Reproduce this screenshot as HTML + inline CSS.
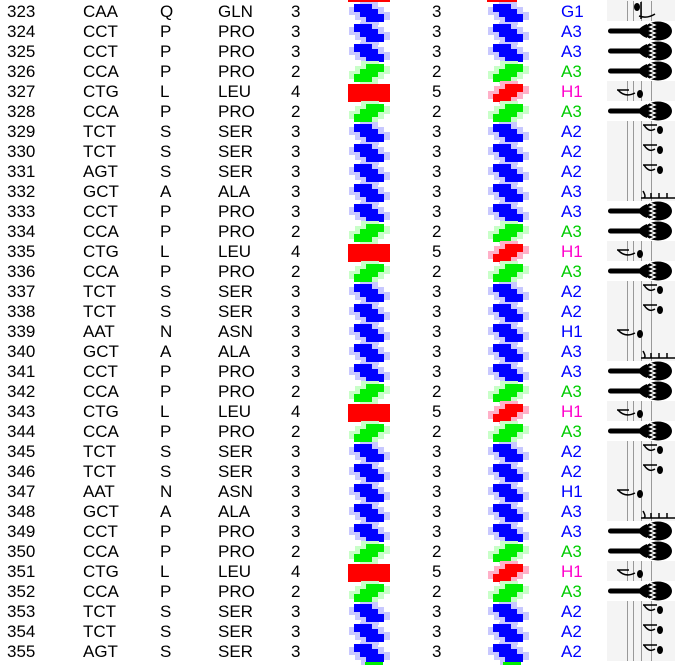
<!DOCTYPE html>
<html><head><meta charset="utf-8"><style>
html,body{margin:0;padding:0;background:#fff;width:675px;height:665px;overflow:hidden}
text{font-family:"Liberation Sans",Arial,sans-serif;font-size:17px}
</style></head><body>
<svg width="675" height="665" xmlns="http://www.w3.org/2000/svg">
<defs>
<polygon id="dk" points="6,0 24,0 24,5 30,5 30,10 36,10 36,18 18,18 18,13 12,13 12,8 6,8"/>
<g id="blue">
<g fill="#c8c8ff"><use href="#dk" transform="translate(-5,3)"/><use href="#dk" transform="translate(6,-2)"/></g>
<use href="#dk" fill="#0000ff"/></g>
<g id="green"><g transform="translate(0,18) scale(1,-1)">
<g fill="#c8ffc8"><use href="#dk" transform="translate(-5,3)"/><use href="#dk" transform="translate(6,-2)"/></g>
<use href="#dk" fill="#00ee00"/></g></g>
<g id="redst"><g transform="translate(0,18) scale(1,-1)">
<g fill="#ffb0c8"><use href="#dk" transform="translate(-5,3)"/><use href="#dk" transform="translate(6,-2)"/></g>
<use href="#dk" fill="#ff0000"/></g></g>
<rect id="redb" width="42" height="18" fill="#ff0000"/>
<g id="mar">
<rect x="1" y="7.5" width="36" height="5" rx="2.5" fill="#000"/>
<path d="M30,10 Q36,4 40,3 L40,17 Q36,16 30,10Z" fill="#000"/>
<ellipse cx="51" cy="10" rx="14" ry="9.5" fill="#000"/>
<polyline points="43,2 48,4 43,6 48,8 43,10 48,12 43,14 48,16 43,18" fill="none" stroke="#fff" stroke-width="1.3"/></g>
<g id="gray">
<rect width="68" height="20" fill="#f4f4f4"/>
<g stroke="#999" stroke-width="1"><line x1="20.5" y1="0" x2="20.5" y2="20"/><line x1="26.5" y1="0" x2="26.5" y2="20"/><line x1="34.5" y1="0" x2="34.5" y2="20"/><line x1="44.5" y1="0" x2="44.5" y2="20"/></g></g>
<g id="nA2"><use href="#gray"/>
<path d="M36,4 L50,4 M37,4 Q42,12 48,8" stroke="#000" stroke-width="1.5" fill="none"/><ellipse cx="53" cy="9" rx="3" ry="4" fill="#000"/></g>
<g id="nH1"><use href="#gray"/>
<path d="M10,9 L22,9 M11,9 Q18,17 28,12" stroke="#000" stroke-width="1.5" fill="none"/><ellipse cx="33" cy="13" rx="3" ry="4" fill="#000"/></g>
<g id="nG1"><use href="#gray"/>
<path d="M34,1 L34,18 M32,15 Q40,18 48,13" stroke="#000" stroke-width="1.5" fill="none"/><ellipse cx="30" cy="6" rx="3" ry="4" fill="#000"/></g>
<g id="nA3"><use href="#gray"/>
<path d="M34,17 L68,17 M36,10 Q40,17 36,17 M44,12 L44,17 M52,12 L52,17 M60,12 L60,17" stroke="#000" stroke-width="1.5" fill="none"/></g>
</defs>
<rect x="348" y="0" width="42" height="2" fill="#f00"/>
<rect x="487" y="0" width="30" height="2" fill="#f00"/>
<rect x="607" y="0" width="68" height="1" fill="#f4f4f4"/>
<g>
<g transform="translate(0,0)"><text x="7" y="17">323</text><text x="83" y="17">CAA</text><text x="160" y="17">Q</text><text x="218" y="17">GLN</text><text x="291" y="17">3</text><use href="#blue" x="348" y="4"/><text x="432" y="17">3</text><use href="#blue" x="487" y="4"/><text x="561" y="17" fill="#0000ff">G1</text><use href="#nG1" x="607" y="1"/></g>
<g transform="translate(0,20)"><text x="7" y="17">324</text><text x="83" y="17">CCT</text><text x="160" y="17">P</text><text x="218" y="17">PRO</text><text x="291" y="17">3</text><use href="#blue" x="348" y="4"/><text x="432" y="17">3</text><use href="#blue" x="487" y="4"/><text x="561" y="17" fill="#0000ff">A3</text><use href="#mar" x="607" y="1"/></g>
<g transform="translate(0,40)"><text x="7" y="17">325</text><text x="83" y="17">CCT</text><text x="160" y="17">P</text><text x="218" y="17">PRO</text><text x="291" y="17">3</text><use href="#blue" x="348" y="4"/><text x="432" y="17">3</text><use href="#blue" x="487" y="4"/><text x="561" y="17" fill="#0000ff">A3</text><use href="#mar" x="607" y="1"/></g>
<g transform="translate(0,60)"><text x="7" y="17">326</text><text x="83" y="17">CCA</text><text x="160" y="17">P</text><text x="218" y="17">PRO</text><text x="291" y="17">2</text><use href="#green" x="348" y="4"/><text x="432" y="17">2</text><use href="#green" x="487" y="4"/><text x="561" y="17" fill="#00cc00">A3</text><use href="#mar" x="607" y="1"/></g>
<g transform="translate(0,80)"><text x="7" y="17">327</text><text x="83" y="17">CTG</text><text x="160" y="17">L</text><text x="218" y="17">LEU</text><text x="291" y="17">4</text><use href="#redb" x="348" y="4"/><text x="432" y="17">5</text><use href="#redst" x="487" y="4"/><text x="561" y="17" fill="#ff00cc">H1</text><use href="#nH1" x="607" y="1"/></g>
<g transform="translate(0,100)"><text x="7" y="17">328</text><text x="83" y="17">CCA</text><text x="160" y="17">P</text><text x="218" y="17">PRO</text><text x="291" y="17">2</text><use href="#green" x="348" y="4"/><text x="432" y="17">2</text><use href="#green" x="487" y="4"/><text x="561" y="17" fill="#00cc00">A3</text><use href="#mar" x="607" y="1"/></g>
<g transform="translate(0,120)"><text x="7" y="17">329</text><text x="83" y="17">TCT</text><text x="160" y="17">S</text><text x="218" y="17">SER</text><text x="291" y="17">3</text><use href="#blue" x="348" y="4"/><text x="432" y="17">3</text><use href="#blue" x="487" y="4"/><text x="561" y="17" fill="#0000ff">A2</text><use href="#nA2" x="607" y="1"/></g>
<g transform="translate(0,140)"><text x="7" y="17">330</text><text x="83" y="17">TCT</text><text x="160" y="17">S</text><text x="218" y="17">SER</text><text x="291" y="17">3</text><use href="#blue" x="348" y="4"/><text x="432" y="17">3</text><use href="#blue" x="487" y="4"/><text x="561" y="17" fill="#0000ff">A2</text><use href="#nA2" x="607" y="1"/></g>
<g transform="translate(0,160)"><text x="7" y="17">331</text><text x="83" y="17">AGT</text><text x="160" y="17">S</text><text x="218" y="17">SER</text><text x="291" y="17">3</text><use href="#blue" x="348" y="4"/><text x="432" y="17">3</text><use href="#blue" x="487" y="4"/><text x="561" y="17" fill="#0000ff">A2</text><use href="#nA2" x="607" y="1"/></g>
<g transform="translate(0,180)"><text x="7" y="17">332</text><text x="83" y="17">GCT</text><text x="160" y="17">A</text><text x="218" y="17">ALA</text><text x="291" y="17">3</text><use href="#blue" x="348" y="4"/><text x="432" y="17">3</text><use href="#blue" x="487" y="4"/><text x="561" y="17" fill="#0000ff">A3</text><use href="#nA3" x="607" y="1"/></g>
<g transform="translate(0,200)"><text x="7" y="17">333</text><text x="83" y="17">CCT</text><text x="160" y="17">P</text><text x="218" y="17">PRO</text><text x="291" y="17">3</text><use href="#blue" x="348" y="4"/><text x="432" y="17">3</text><use href="#blue" x="487" y="4"/><text x="561" y="17" fill="#0000ff">A3</text><use href="#mar" x="607" y="1"/></g>
<g transform="translate(0,220)"><text x="7" y="17">334</text><text x="83" y="17">CCA</text><text x="160" y="17">P</text><text x="218" y="17">PRO</text><text x="291" y="17">2</text><use href="#green" x="348" y="4"/><text x="432" y="17">2</text><use href="#green" x="487" y="4"/><text x="561" y="17" fill="#00cc00">A3</text><use href="#mar" x="607" y="1"/></g>
<g transform="translate(0,240)"><text x="7" y="17">335</text><text x="83" y="17">CTG</text><text x="160" y="17">L</text><text x="218" y="17">LEU</text><text x="291" y="17">4</text><use href="#redb" x="348" y="4"/><text x="432" y="17">5</text><use href="#redst" x="487" y="4"/><text x="561" y="17" fill="#ff00cc">H1</text><use href="#nH1" x="607" y="1"/></g>
<g transform="translate(0,260)"><text x="7" y="17">336</text><text x="83" y="17">CCA</text><text x="160" y="17">P</text><text x="218" y="17">PRO</text><text x="291" y="17">2</text><use href="#green" x="348" y="4"/><text x="432" y="17">2</text><use href="#green" x="487" y="4"/><text x="561" y="17" fill="#00cc00">A3</text><use href="#mar" x="607" y="1"/></g>
<g transform="translate(0,280)"><text x="7" y="17">337</text><text x="83" y="17">TCT</text><text x="160" y="17">S</text><text x="218" y="17">SER</text><text x="291" y="17">3</text><use href="#blue" x="348" y="4"/><text x="432" y="17">3</text><use href="#blue" x="487" y="4"/><text x="561" y="17" fill="#0000ff">A2</text><use href="#nA2" x="607" y="1"/></g>
<g transform="translate(0,300)"><text x="7" y="17">338</text><text x="83" y="17">TCT</text><text x="160" y="17">S</text><text x="218" y="17">SER</text><text x="291" y="17">3</text><use href="#blue" x="348" y="4"/><text x="432" y="17">3</text><use href="#blue" x="487" y="4"/><text x="561" y="17" fill="#0000ff">A2</text><use href="#nA2" x="607" y="1"/></g>
<g transform="translate(0,320)"><text x="7" y="17">339</text><text x="83" y="17">AAT</text><text x="160" y="17">N</text><text x="218" y="17">ASN</text><text x="291" y="17">3</text><use href="#blue" x="348" y="4"/><text x="432" y="17">3</text><use href="#blue" x="487" y="4"/><text x="561" y="17" fill="#0000ff">H1</text><use href="#nH1" x="607" y="1"/></g>
<g transform="translate(0,340)"><text x="7" y="17">340</text><text x="83" y="17">GCT</text><text x="160" y="17">A</text><text x="218" y="17">ALA</text><text x="291" y="17">3</text><use href="#blue" x="348" y="4"/><text x="432" y="17">3</text><use href="#blue" x="487" y="4"/><text x="561" y="17" fill="#0000ff">A3</text><use href="#nA3" x="607" y="1"/></g>
<g transform="translate(0,360)"><text x="7" y="17">341</text><text x="83" y="17">CCT</text><text x="160" y="17">P</text><text x="218" y="17">PRO</text><text x="291" y="17">3</text><use href="#blue" x="348" y="4"/><text x="432" y="17">3</text><use href="#blue" x="487" y="4"/><text x="561" y="17" fill="#0000ff">A3</text><use href="#mar" x="607" y="1"/></g>
<g transform="translate(0,380)"><text x="7" y="17">342</text><text x="83" y="17">CCA</text><text x="160" y="17">P</text><text x="218" y="17">PRO</text><text x="291" y="17">2</text><use href="#green" x="348" y="4"/><text x="432" y="17">2</text><use href="#green" x="487" y="4"/><text x="561" y="17" fill="#00cc00">A3</text><use href="#mar" x="607" y="1"/></g>
<g transform="translate(0,400)"><text x="7" y="17">343</text><text x="83" y="17">CTG</text><text x="160" y="17">L</text><text x="218" y="17">LEU</text><text x="291" y="17">4</text><use href="#redb" x="348" y="4"/><text x="432" y="17">5</text><use href="#redst" x="487" y="4"/><text x="561" y="17" fill="#ff00cc">H1</text><use href="#nH1" x="607" y="1"/></g>
<g transform="translate(0,420)"><text x="7" y="17">344</text><text x="83" y="17">CCA</text><text x="160" y="17">P</text><text x="218" y="17">PRO</text><text x="291" y="17">2</text><use href="#green" x="348" y="4"/><text x="432" y="17">2</text><use href="#green" x="487" y="4"/><text x="561" y="17" fill="#00cc00">A3</text><use href="#mar" x="607" y="1"/></g>
<g transform="translate(0,440)"><text x="7" y="17">345</text><text x="83" y="17">TCT</text><text x="160" y="17">S</text><text x="218" y="17">SER</text><text x="291" y="17">3</text><use href="#blue" x="348" y="4"/><text x="432" y="17">3</text><use href="#blue" x="487" y="4"/><text x="561" y="17" fill="#0000ff">A2</text><use href="#nA2" x="607" y="1"/></g>
<g transform="translate(0,460)"><text x="7" y="17">346</text><text x="83" y="17">TCT</text><text x="160" y="17">S</text><text x="218" y="17">SER</text><text x="291" y="17">3</text><use href="#blue" x="348" y="4"/><text x="432" y="17">3</text><use href="#blue" x="487" y="4"/><text x="561" y="17" fill="#0000ff">A2</text><use href="#nA2" x="607" y="1"/></g>
<g transform="translate(0,480)"><text x="7" y="17">347</text><text x="83" y="17">AAT</text><text x="160" y="17">N</text><text x="218" y="17">ASN</text><text x="291" y="17">3</text><use href="#blue" x="348" y="4"/><text x="432" y="17">3</text><use href="#blue" x="487" y="4"/><text x="561" y="17" fill="#0000ff">H1</text><use href="#nH1" x="607" y="1"/></g>
<g transform="translate(0,500)"><text x="7" y="17">348</text><text x="83" y="17">GCT</text><text x="160" y="17">A</text><text x="218" y="17">ALA</text><text x="291" y="17">3</text><use href="#blue" x="348" y="4"/><text x="432" y="17">3</text><use href="#blue" x="487" y="4"/><text x="561" y="17" fill="#0000ff">A3</text><use href="#nA3" x="607" y="1"/></g>
<g transform="translate(0,520)"><text x="7" y="17">349</text><text x="83" y="17">CCT</text><text x="160" y="17">P</text><text x="218" y="17">PRO</text><text x="291" y="17">3</text><use href="#blue" x="348" y="4"/><text x="432" y="17">3</text><use href="#blue" x="487" y="4"/><text x="561" y="17" fill="#0000ff">A3</text><use href="#mar" x="607" y="1"/></g>
<g transform="translate(0,540)"><text x="7" y="17">350</text><text x="83" y="17">CCA</text><text x="160" y="17">P</text><text x="218" y="17">PRO</text><text x="291" y="17">2</text><use href="#green" x="348" y="4"/><text x="432" y="17">2</text><use href="#green" x="487" y="4"/><text x="561" y="17" fill="#00cc00">A3</text><use href="#mar" x="607" y="1"/></g>
<g transform="translate(0,560)"><text x="7" y="17">351</text><text x="83" y="17">CTG</text><text x="160" y="17">L</text><text x="218" y="17">LEU</text><text x="291" y="17">4</text><use href="#redb" x="348" y="4"/><text x="432" y="17">5</text><use href="#redst" x="487" y="4"/><text x="561" y="17" fill="#ff00cc">H1</text><use href="#nH1" x="607" y="1"/></g>
<g transform="translate(0,580)"><text x="7" y="17">352</text><text x="83" y="17">CCA</text><text x="160" y="17">P</text><text x="218" y="17">PRO</text><text x="291" y="17">2</text><use href="#green" x="348" y="4"/><text x="432" y="17">2</text><use href="#green" x="487" y="4"/><text x="561" y="17" fill="#00cc00">A3</text><use href="#mar" x="607" y="1"/></g>
<g transform="translate(0,600)"><text x="7" y="17">353</text><text x="83" y="17">TCT</text><text x="160" y="17">S</text><text x="218" y="17">SER</text><text x="291" y="17">3</text><use href="#blue" x="348" y="4"/><text x="432" y="17">3</text><use href="#blue" x="487" y="4"/><text x="561" y="17" fill="#0000ff">A2</text><use href="#nA2" x="607" y="1"/></g>
<g transform="translate(0,620)"><text x="7" y="17">354</text><text x="83" y="17">TCT</text><text x="160" y="17">S</text><text x="218" y="17">SER</text><text x="291" y="17">3</text><use href="#blue" x="348" y="4"/><text x="432" y="17">3</text><use href="#blue" x="487" y="4"/><text x="561" y="17" fill="#0000ff">A2</text><use href="#nA2" x="607" y="1"/></g>
<g transform="translate(0,640)"><text x="7" y="17">355</text><text x="83" y="17">AGT</text><text x="160" y="17">S</text><text x="218" y="17">SER</text><text x="291" y="17">3</text><use href="#blue" x="348" y="4"/><text x="432" y="17">3</text><use href="#blue" x="487" y="4"/><text x="561" y="17" fill="#0000ff">A2</text><use href="#nA2" x="607" y="1"/></g>
</g>
<rect x="365" y="662" width="18" height="3" fill="#00ee00"/>
<rect x="503" y="662" width="18" height="3" fill="#00ee00"/>
</svg>
</body></html>
